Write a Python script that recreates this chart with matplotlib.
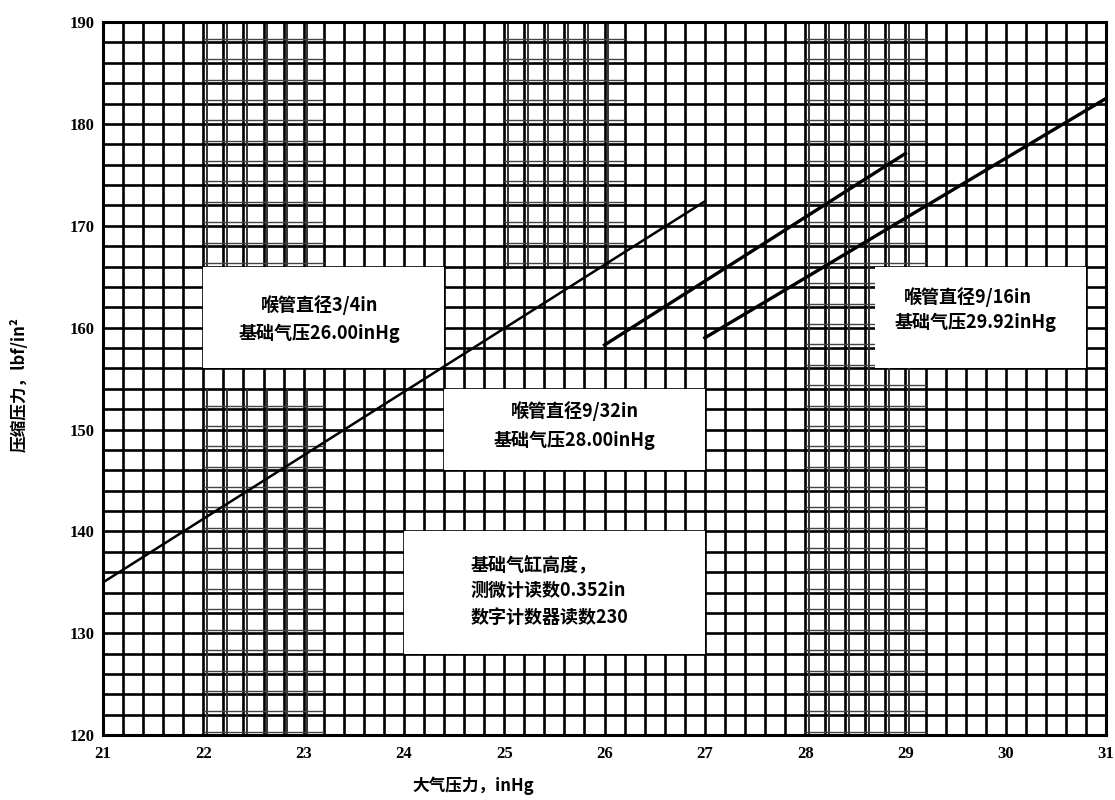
import matplotlib
matplotlib.use("Agg")
import matplotlib.pyplot as plt
from matplotlib.patches import Rectangle
import numpy as np

plt.rcParams['font.family'] = ['Noto Sans CJK SC', 'DejaVu Sans']

# calibration lines (atmospheric pressure inHg -> compression pressure lbf/in2)
line_a_x = [21.0, 27.0]
line_a_y = [135.0, 172.4]
line_b_x = [26.0, 29.0]
line_b_y = [158.3, 177.1]
line_c_x = [27.0, 31.0]
line_c_y = [159.0, 182.5]

x_ticks = [21, 22, 23, 24, 25, 26, 27, 28, 29, 30, 31]
y_ticks = [120, 130, 140, 150, 160, 170, 180, 190]

# white label panels: (x0, x1, y0, y1)
panels = [
    (22.0, 24.4, 156, 166),
    (24.4, 27.0, 146, 154),
    (24.0, 27.0, 128, 140),
    (28.7, 30.8, 156, 166),
]
panel_texts = [
    (23.16, 162.2, "喉管直径3/4in", "center"),
    (23.16, 159.4, "基础气压26.00inHg", "center"),
    (25.70, 151.8, "喉管直径9/32in", "center"),
    (25.70, 148.9, "基础气压28.00inHg", "center"),
    (29.62, 163.0, "喉管直径9/16in", "center"),
    (29.70, 160.5, "基础气压29.92inHg", "center"),
    (24.66, 136.7, "基础气缸高度，", "left"),
    (24.66, 134.2, "测微计读数0.352in", "left"),
    (24.66, 131.6, "数字计数器读数230", "left"),
]

# darker (double printed) grid patches of the scan: (x0, x1, y0, y1)
heavy = [
    (22.0, 23.2, 120, 154),
    (22.0, 23.2, 166, 190),
    (25.0, 26.2, 166, 190),
    (28.0, 29.2, 120, 190),
]

fig = plt.figure(figsize=(11.15, 8), dpi=100)
ax = fig.add_axes([0.0924, 0.081, 0.8996, 0.8915])
ax.set_xlim(21, 31)
ax.set_ylim(120, 190)

ax.set_xticks(x_ticks)
ax.set_yticks(y_ticks)
ax.set_xticks(np.arange(21, 31.01, 0.2), minor=True)
ax.set_yticks(np.arange(120, 190.1, 2), minor=True)
ax.grid(which='both', color='black', lw=1.9)
ax.set_axisbelow(True)
ax.tick_params(which='both', length=0)
ax.tick_params(axis='x', pad=8)
ax.tick_params(axis='y', pad=6)
for lab in ax.get_xticklabels() + ax.get_yticklabels():
    lab.set_fontfamily('Liberation Serif')
    lab.set_fontweight('bold')
    lab.set_fontsize(12)
for s in ax.spines.values():
    s.set_linewidth(2.2)

# thickened / doubled grid lines in the scanned patches
for x0, x1, y0, y1 in heavy:
    gx = np.arange(x0, x1 - 0.01, 0.2) + 0.035
    gy = np.arange(y0, y1 - 0.1, 2) + 0.35
    ax.vlines(gx, y0, y1, color='#333333', lw=1.4, zorder=0.6)
    ax.hlines(gy, x0, x1, color='#444444', lw=1.0, zorder=0.6)

for x0, x1, y0, y1 in panels:
    ax.add_patch(Rectangle((x0, y0), x1 - x0, y1 - y0, facecolor='white',
                           edgecolor='none', zorder=1))

ax.plot(line_a_x, line_a_y, color='black', lw=1.8, zorder=3)
ax.plot(line_b_x, line_b_y, color='black', lw=2.4, zorder=3)
ax.plot(line_c_x, line_c_y, color='black', lw=2.4, zorder=3)

for x, y, t, ha in panel_texts:
    ax.text(x, y, t, ha=ha, va='center', fontsize=13, fontweight='bold', zorder=4)

fig.text(473 / 1115, 1 - 786 / 800, "大气压力，inHg", ha='center', va='center',
         fontsize=12, fontweight='bold')
fig.text(20 / 1115, 1 - 385 / 800, "压缩压力，lbf/in²", ha='center', va='center',
         rotation=90, fontsize=12, fontweight='bold')

fig.savefig("out.png", dpi=100)
